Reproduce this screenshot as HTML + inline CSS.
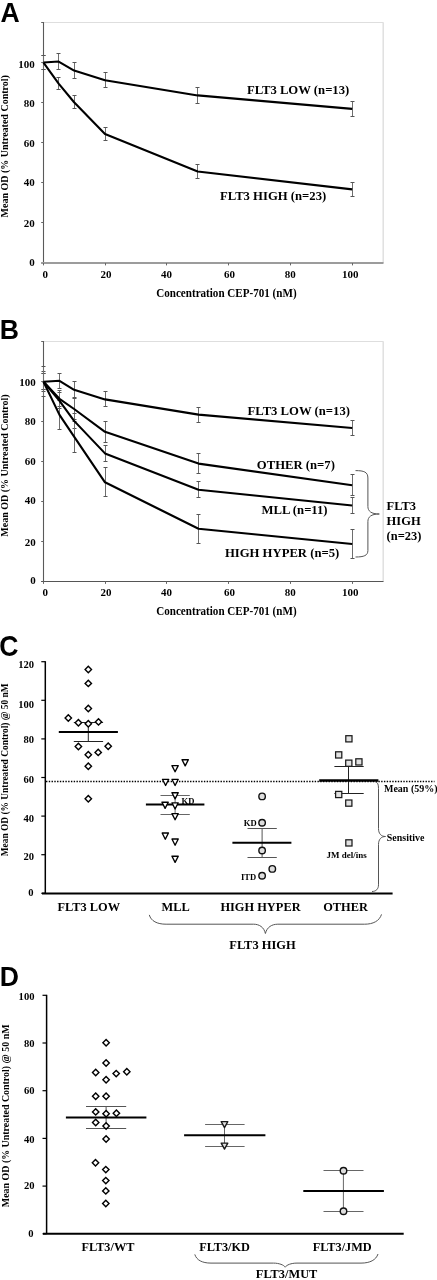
<!DOCTYPE html>
<html><head><meta charset="utf-8"><title>Figure</title>
<style>
html,body{margin:0;padding:0;background:#fff;}
body{width:437px;height:1280px;overflow:hidden;}
svg{display:block;}
text{-webkit-font-smoothing:antialiased;}
svg g{will-change:transform;}
</style></head>
<body>
<svg width="437" height="1280" viewBox="0 0 437 1280">
<rect width="437" height="1280" fill="#fff"/>
<g style="font-family:'Liberation Serif',serif;font-weight:bold" fill="#000">
<line x1="43.50" y1="22.50" x2="383.50" y2="22.50" stroke="#dedede" stroke-width="1" />
<line x1="383.20" y1="22.50" x2="383.20" y2="263.00" stroke="#dedede" stroke-width="1.4" />
<line x1="43.50" y1="22.00" x2="43.50" y2="264.00" stroke="#5a5a5a" stroke-width="1.1" />
<line x1="41.20" y1="263.00" x2="43.50" y2="263.00" stroke="#666" stroke-width="1" />
<text transform="translate(34.70,265.80) scale(1,1.03)" font-size="11" text-anchor="end" >0</text>
<line x1="41.20" y1="222.50" x2="43.50" y2="222.50" stroke="#666" stroke-width="1" />
<text transform="translate(34.70,226.50) scale(1,1.03)" font-size="11" text-anchor="end" >20</text>
<line x1="41.20" y1="182.50" x2="43.50" y2="182.50" stroke="#666" stroke-width="1" />
<text transform="translate(34.70,185.70) scale(1,1.03)" font-size="11" text-anchor="end" >40</text>
<line x1="41.20" y1="142.50" x2="43.50" y2="142.50" stroke="#666" stroke-width="1" />
<text transform="translate(34.70,146.60) scale(1,1.03)" font-size="11" text-anchor="end" >60</text>
<line x1="41.20" y1="102.50" x2="43.50" y2="102.50" stroke="#666" stroke-width="1" />
<text transform="translate(34.70,106.70) scale(1,1.03)" font-size="11" text-anchor="end" >80</text>
<line x1="41.20" y1="62.50" x2="43.50" y2="62.50" stroke="#666" stroke-width="1" />
<text transform="translate(34.70,67.60) scale(1,1.03)" font-size="11" text-anchor="end" >100</text>
<line x1="41.20" y1="22.50" x2="43.50" y2="22.50" stroke="#666" stroke-width="1" />
<line x1="41.20" y1="263.00" x2="383.50" y2="263.00" stroke="#9c9c9c" stroke-width="2" />
<line x1="43.50" y1="263.00" x2="43.50" y2="265.40" stroke="#666" stroke-width="1" />
<text transform="translate(45.30,277.90) scale(1,1.03)" font-size="11" text-anchor="middle" >0</text>
<line x1="105.50" y1="263.00" x2="105.50" y2="265.40" stroke="#666" stroke-width="1" />
<text transform="translate(106.00,277.90) scale(1,1.03)" font-size="11" text-anchor="middle" >20</text>
<line x1="166.50" y1="263.00" x2="166.50" y2="265.40" stroke="#666" stroke-width="1" />
<text transform="translate(166.60,277.90) scale(1,1.03)" font-size="11" text-anchor="middle" >40</text>
<line x1="228.50" y1="263.00" x2="228.50" y2="265.40" stroke="#666" stroke-width="1" />
<text transform="translate(229.50,277.90) scale(1,1.03)" font-size="11" text-anchor="middle" >60</text>
<line x1="290.50" y1="263.00" x2="290.50" y2="265.40" stroke="#666" stroke-width="1" />
<text transform="translate(290.20,277.90) scale(1,1.03)" font-size="11" text-anchor="middle" >80</text>
<line x1="352.50" y1="263.00" x2="352.50" y2="265.40" stroke="#666" stroke-width="1" />
<text transform="translate(350.30,277.90) scale(1,1.03)" font-size="11" text-anchor="middle" >100</text>
<line x1="43.50" y1="55.50" x2="43.50" y2="69.50" stroke="#6e6e6e" stroke-width="1" />
<line x1="41.50" y1="55.50" x2="45.50" y2="55.50" stroke="#555" stroke-width="1" />
<line x1="41.50" y1="69.50" x2="45.50" y2="69.50" stroke="#555" stroke-width="1" />
<line x1="58.50" y1="53.50" x2="58.50" y2="69.50" stroke="#6e6e6e" stroke-width="1" />
<line x1="56.50" y1="53.50" x2="60.50" y2="53.50" stroke="#555" stroke-width="1" />
<line x1="56.50" y1="69.50" x2="60.50" y2="69.50" stroke="#555" stroke-width="1" />
<line x1="74.50" y1="62.50" x2="74.50" y2="78.50" stroke="#6e6e6e" stroke-width="1" />
<line x1="72.50" y1="62.50" x2="76.50" y2="62.50" stroke="#555" stroke-width="1" />
<line x1="72.50" y1="78.50" x2="76.50" y2="78.50" stroke="#555" stroke-width="1" />
<line x1="105.50" y1="72.50" x2="105.50" y2="87.50" stroke="#6e6e6e" stroke-width="1" />
<line x1="103.50" y1="72.50" x2="107.50" y2="72.50" stroke="#555" stroke-width="1" />
<line x1="103.50" y1="87.50" x2="107.50" y2="87.50" stroke="#555" stroke-width="1" />
<line x1="197.50" y1="87.50" x2="197.50" y2="103.50" stroke="#6e6e6e" stroke-width="1" />
<line x1="195.50" y1="87.50" x2="199.50" y2="87.50" stroke="#555" stroke-width="1" />
<line x1="195.50" y1="103.50" x2="199.50" y2="103.50" stroke="#555" stroke-width="1" />
<line x1="352.50" y1="101.50" x2="352.50" y2="116.50" stroke="#6e6e6e" stroke-width="1" />
<line x1="350.50" y1="101.50" x2="354.50" y2="101.50" stroke="#555" stroke-width="1" />
<line x1="350.50" y1="116.50" x2="354.50" y2="116.50" stroke="#555" stroke-width="1" />
<line x1="43.50" y1="55.50" x2="43.50" y2="69.50" stroke="#6e6e6e" stroke-width="1" />
<line x1="41.50" y1="55.50" x2="45.50" y2="55.50" stroke="#555" stroke-width="1" />
<line x1="41.50" y1="69.50" x2="45.50" y2="69.50" stroke="#555" stroke-width="1" />
<line x1="58.50" y1="77.50" x2="58.50" y2="89.50" stroke="#6e6e6e" stroke-width="1" />
<line x1="56.50" y1="77.50" x2="60.50" y2="77.50" stroke="#555" stroke-width="1" />
<line x1="56.50" y1="89.50" x2="60.50" y2="89.50" stroke="#555" stroke-width="1" />
<line x1="74.50" y1="95.50" x2="74.50" y2="108.50" stroke="#6e6e6e" stroke-width="1" />
<line x1="72.50" y1="95.50" x2="76.50" y2="95.50" stroke="#555" stroke-width="1" />
<line x1="72.50" y1="108.50" x2="76.50" y2="108.50" stroke="#555" stroke-width="1" />
<line x1="105.50" y1="127.50" x2="105.50" y2="140.50" stroke="#6e6e6e" stroke-width="1" />
<line x1="103.50" y1="127.50" x2="107.50" y2="127.50" stroke="#555" stroke-width="1" />
<line x1="103.50" y1="140.50" x2="107.50" y2="140.50" stroke="#555" stroke-width="1" />
<line x1="197.50" y1="164.50" x2="197.50" y2="178.50" stroke="#6e6e6e" stroke-width="1" />
<line x1="195.50" y1="164.50" x2="199.50" y2="164.50" stroke="#555" stroke-width="1" />
<line x1="195.50" y1="178.50" x2="199.50" y2="178.50" stroke="#555" stroke-width="1" />
<line x1="352.50" y1="182.50" x2="352.50" y2="196.50" stroke="#6e6e6e" stroke-width="1" />
<line x1="350.50" y1="182.50" x2="354.50" y2="182.50" stroke="#555" stroke-width="1" />
<line x1="350.50" y1="196.50" x2="354.50" y2="196.50" stroke="#555" stroke-width="1" />
<polyline points="43.50,62.57 58.65,61.57 74.10,70.58 105.00,80.20 197.70,95.42 352.20,108.85" fill="none" stroke="#000" stroke-width="2.1" stroke-linejoin="round" stroke-linecap="butt"/>
<polyline points="43.50,62.57 58.65,83.60 74.10,102.24 105.00,134.09 197.70,171.55 352.20,189.38" fill="none" stroke="#000" stroke-width="2.1" stroke-linejoin="round" stroke-linecap="butt"/>
<text transform="translate(246.90,93.70) scale(1,1.03)" font-size="12.7" text-anchor="start" >FLT3 LOW (n=13)</text>
<text transform="translate(220.10,200.10) scale(1,1.03)" font-size="12.7" text-anchor="start" >FLT3 HIGH (n=23)</text>
<text transform="translate(226.40,297.20) scale(1,1.03)" font-size="11.1" text-anchor="middle" >Concentration CEP-701 (nM)</text>
<line x1="43.50" y1="341.50" x2="383.50" y2="341.50" stroke="#dedede" stroke-width="1" />
<line x1="383.20" y1="341.50" x2="383.20" y2="581.50" stroke="#dedede" stroke-width="1.4" />
<line x1="43.50" y1="341.00" x2="43.50" y2="582.50" stroke="#5a5a5a" stroke-width="1.1" />
<line x1="41.20" y1="581.50" x2="43.50" y2="581.50" stroke="#666" stroke-width="1" />
<text transform="translate(35.80,584.40) scale(1,1.03)" font-size="11" text-anchor="end" >0</text>
<line x1="41.20" y1="541.50" x2="43.50" y2="541.50" stroke="#666" stroke-width="1" />
<text transform="translate(35.80,545.60) scale(1,1.03)" font-size="11" text-anchor="end" >20</text>
<line x1="41.20" y1="501.50" x2="43.50" y2="501.50" stroke="#666" stroke-width="1" />
<text transform="translate(35.80,503.90) scale(1,1.03)" font-size="11" text-anchor="end" >40</text>
<line x1="41.20" y1="461.50" x2="43.50" y2="461.50" stroke="#666" stroke-width="1" />
<text transform="translate(35.80,464.60) scale(1,1.03)" font-size="11" text-anchor="end" >60</text>
<line x1="41.20" y1="421.50" x2="43.50" y2="421.50" stroke="#666" stroke-width="1" />
<text transform="translate(35.80,425.20) scale(1,1.03)" font-size="11" text-anchor="end" >80</text>
<line x1="41.20" y1="381.50" x2="43.50" y2="381.50" stroke="#666" stroke-width="1" />
<text transform="translate(35.80,385.70) scale(1,1.03)" font-size="11" text-anchor="end" >100</text>
<line x1="41.20" y1="341.50" x2="43.50" y2="341.50" stroke="#666" stroke-width="1" />
<line x1="41.20" y1="581.50" x2="383.50" y2="581.50" stroke="#555" stroke-width="1.2" />
<line x1="43.50" y1="581.50" x2="43.50" y2="583.90" stroke="#666" stroke-width="1" />
<text transform="translate(45.30,596.30) scale(1,1.03)" font-size="11" text-anchor="middle" >0</text>
<line x1="105.50" y1="581.50" x2="105.50" y2="583.90" stroke="#666" stroke-width="1" />
<text transform="translate(106.00,596.30) scale(1,1.03)" font-size="11" text-anchor="middle" >20</text>
<line x1="166.50" y1="581.50" x2="166.50" y2="583.90" stroke="#666" stroke-width="1" />
<text transform="translate(166.60,596.30) scale(1,1.03)" font-size="11" text-anchor="middle" >40</text>
<line x1="228.50" y1="581.50" x2="228.50" y2="583.90" stroke="#666" stroke-width="1" />
<text transform="translate(229.50,596.30) scale(1,1.03)" font-size="11" text-anchor="middle" >60</text>
<line x1="290.50" y1="581.50" x2="290.50" y2="583.90" stroke="#666" stroke-width="1" />
<text transform="translate(290.20,596.30) scale(1,1.03)" font-size="11" text-anchor="middle" >80</text>
<line x1="352.50" y1="581.50" x2="352.50" y2="583.90" stroke="#666" stroke-width="1" />
<text transform="translate(350.30,596.30) scale(1,1.03)" font-size="11" text-anchor="middle" >100</text>
<line x1="43.50" y1="373.50" x2="43.50" y2="389.50" stroke="#6e6e6e" stroke-width="1" />
<line x1="41.50" y1="373.50" x2="45.50" y2="373.50" stroke="#555" stroke-width="1" />
<line x1="41.50" y1="389.50" x2="45.50" y2="389.50" stroke="#555" stroke-width="1" />
<line x1="59.50" y1="373.50" x2="59.50" y2="388.50" stroke="#6e6e6e" stroke-width="1" />
<line x1="57.50" y1="373.50" x2="61.50" y2="373.50" stroke="#555" stroke-width="1" />
<line x1="57.50" y1="388.50" x2="61.50" y2="388.50" stroke="#555" stroke-width="1" />
<line x1="74.50" y1="381.50" x2="74.50" y2="397.50" stroke="#6e6e6e" stroke-width="1" />
<line x1="72.50" y1="381.50" x2="76.50" y2="381.50" stroke="#555" stroke-width="1" />
<line x1="72.50" y1="397.50" x2="76.50" y2="397.50" stroke="#555" stroke-width="1" />
<line x1="105.50" y1="391.50" x2="105.50" y2="406.50" stroke="#6e6e6e" stroke-width="1" />
<line x1="103.50" y1="391.50" x2="107.50" y2="391.50" stroke="#555" stroke-width="1" />
<line x1="103.50" y1="406.50" x2="107.50" y2="406.50" stroke="#555" stroke-width="1" />
<line x1="198.50" y1="407.50" x2="198.50" y2="422.50" stroke="#6e6e6e" stroke-width="1" />
<line x1="196.50" y1="407.50" x2="200.50" y2="407.50" stroke="#555" stroke-width="1" />
<line x1="196.50" y1="422.50" x2="200.50" y2="422.50" stroke="#555" stroke-width="1" />
<line x1="352.50" y1="420.50" x2="352.50" y2="435.50" stroke="#6e6e6e" stroke-width="1" />
<line x1="350.50" y1="420.50" x2="354.50" y2="420.50" stroke="#555" stroke-width="1" />
<line x1="350.50" y1="435.50" x2="354.50" y2="435.50" stroke="#555" stroke-width="1" />
<line x1="43.50" y1="371.50" x2="43.50" y2="391.50" stroke="#6e6e6e" stroke-width="1" />
<line x1="41.50" y1="371.50" x2="45.50" y2="371.50" stroke="#555" stroke-width="1" />
<line x1="41.50" y1="391.50" x2="45.50" y2="391.50" stroke="#555" stroke-width="1" />
<line x1="59.50" y1="390.50" x2="59.50" y2="406.50" stroke="#6e6e6e" stroke-width="1" />
<line x1="57.50" y1="390.50" x2="61.50" y2="390.50" stroke="#555" stroke-width="1" />
<line x1="57.50" y1="406.50" x2="61.50" y2="406.50" stroke="#555" stroke-width="1" />
<line x1="74.50" y1="398.50" x2="74.50" y2="419.50" stroke="#6e6e6e" stroke-width="1" />
<line x1="72.50" y1="398.50" x2="76.50" y2="398.50" stroke="#555" stroke-width="1" />
<line x1="72.50" y1="419.50" x2="76.50" y2="419.50" stroke="#555" stroke-width="1" />
<line x1="105.50" y1="421.50" x2="105.50" y2="442.50" stroke="#6e6e6e" stroke-width="1" />
<line x1="103.50" y1="421.50" x2="107.50" y2="421.50" stroke="#555" stroke-width="1" />
<line x1="103.50" y1="442.50" x2="107.50" y2="442.50" stroke="#555" stroke-width="1" />
<line x1="198.50" y1="453.50" x2="198.50" y2="473.50" stroke="#6e6e6e" stroke-width="1" />
<line x1="196.50" y1="453.50" x2="200.50" y2="453.50" stroke="#555" stroke-width="1" />
<line x1="196.50" y1="473.50" x2="200.50" y2="473.50" stroke="#555" stroke-width="1" />
<line x1="352.50" y1="474.50" x2="352.50" y2="495.50" stroke="#6e6e6e" stroke-width="1" />
<line x1="350.50" y1="474.50" x2="354.50" y2="474.50" stroke="#555" stroke-width="1" />
<line x1="350.50" y1="495.50" x2="354.50" y2="495.50" stroke="#555" stroke-width="1" />
<line x1="43.50" y1="373.50" x2="43.50" y2="389.50" stroke="#6e6e6e" stroke-width="1" />
<line x1="41.50" y1="373.50" x2="45.50" y2="373.50" stroke="#555" stroke-width="1" />
<line x1="41.50" y1="389.50" x2="45.50" y2="389.50" stroke="#555" stroke-width="1" />
<line x1="59.50" y1="392.50" x2="59.50" y2="408.50" stroke="#6e6e6e" stroke-width="1" />
<line x1="57.50" y1="392.50" x2="61.50" y2="392.50" stroke="#555" stroke-width="1" />
<line x1="57.50" y1="408.50" x2="61.50" y2="408.50" stroke="#555" stroke-width="1" />
<line x1="74.50" y1="413.50" x2="74.50" y2="428.50" stroke="#6e6e6e" stroke-width="1" />
<line x1="72.50" y1="413.50" x2="76.50" y2="413.50" stroke="#555" stroke-width="1" />
<line x1="72.50" y1="428.50" x2="76.50" y2="428.50" stroke="#555" stroke-width="1" />
<line x1="105.50" y1="445.50" x2="105.50" y2="461.50" stroke="#6e6e6e" stroke-width="1" />
<line x1="103.50" y1="445.50" x2="107.50" y2="445.50" stroke="#555" stroke-width="1" />
<line x1="103.50" y1="461.50" x2="107.50" y2="461.50" stroke="#555" stroke-width="1" />
<line x1="198.50" y1="481.50" x2="198.50" y2="497.50" stroke="#6e6e6e" stroke-width="1" />
<line x1="196.50" y1="481.50" x2="200.50" y2="481.50" stroke="#555" stroke-width="1" />
<line x1="196.50" y1="497.50" x2="200.50" y2="497.50" stroke="#555" stroke-width="1" />
<line x1="352.50" y1="497.50" x2="352.50" y2="513.50" stroke="#6e6e6e" stroke-width="1" />
<line x1="350.50" y1="497.50" x2="354.50" y2="497.50" stroke="#555" stroke-width="1" />
<line x1="350.50" y1="513.50" x2="354.50" y2="513.50" stroke="#555" stroke-width="1" />
<line x1="43.50" y1="366.50" x2="43.50" y2="396.50" stroke="#6e6e6e" stroke-width="1" />
<line x1="41.50" y1="366.50" x2="45.50" y2="366.50" stroke="#555" stroke-width="1" />
<line x1="41.50" y1="396.50" x2="45.50" y2="396.50" stroke="#555" stroke-width="1" />
<line x1="59.50" y1="400.50" x2="59.50" y2="429.50" stroke="#6e6e6e" stroke-width="1" />
<line x1="57.50" y1="400.50" x2="61.50" y2="400.50" stroke="#555" stroke-width="1" />
<line x1="57.50" y1="429.50" x2="61.50" y2="429.50" stroke="#555" stroke-width="1" />
<line x1="74.50" y1="421.50" x2="74.50" y2="452.50" stroke="#6e6e6e" stroke-width="1" />
<line x1="72.50" y1="421.50" x2="76.50" y2="421.50" stroke="#555" stroke-width="1" />
<line x1="72.50" y1="452.50" x2="76.50" y2="452.50" stroke="#555" stroke-width="1" />
<line x1="105.50" y1="467.50" x2="105.50" y2="496.50" stroke="#6e6e6e" stroke-width="1" />
<line x1="103.50" y1="467.50" x2="107.50" y2="467.50" stroke="#555" stroke-width="1" />
<line x1="103.50" y1="496.50" x2="107.50" y2="496.50" stroke="#555" stroke-width="1" />
<line x1="198.50" y1="514.50" x2="198.50" y2="543.50" stroke="#6e6e6e" stroke-width="1" />
<line x1="196.50" y1="514.50" x2="200.50" y2="514.50" stroke="#555" stroke-width="1" />
<line x1="196.50" y1="543.50" x2="200.50" y2="543.50" stroke="#555" stroke-width="1" />
<line x1="352.50" y1="529.50" x2="352.50" y2="558.50" stroke="#6e6e6e" stroke-width="1" />
<line x1="350.50" y1="529.50" x2="354.50" y2="529.50" stroke="#555" stroke-width="1" />
<line x1="350.50" y1="558.50" x2="354.50" y2="558.50" stroke="#555" stroke-width="1" />
<polyline points="43.50,381.80 59.50,380.80 74.10,389.80 105.00,399.40 198.50,414.60 352.20,428.00" fill="none" stroke="#000" stroke-width="2.1" stroke-linejoin="round" stroke-linecap="butt"/>
<polyline points="43.50,381.80 59.50,398.80 74.10,409.00 105.00,431.80 198.50,463.60 352.20,485.20" fill="none" stroke="#000" stroke-width="2.1" stroke-linejoin="round" stroke-linecap="butt"/>
<polyline points="43.50,381.80 59.50,400.80 74.10,420.90 105.00,453.40 198.50,489.80 352.20,505.50" fill="none" stroke="#000" stroke-width="2.1" stroke-linejoin="round" stroke-linecap="butt"/>
<polyline points="43.50,381.80 59.50,414.90 74.10,436.70 105.00,482.30 198.50,528.70 352.20,544.00" fill="none" stroke="#000" stroke-width="2.1" stroke-linejoin="round" stroke-linecap="butt"/>
<text transform="translate(247.60,414.60) scale(1,1.03)" font-size="12.7" text-anchor="start" >FLT3 LOW (n=13)</text>
<text transform="translate(256.80,468.90) scale(1,1.03)" font-size="12.7" text-anchor="start" >OTHER (n=7)</text>
<text transform="translate(261.50,513.50) scale(1,1.03)" font-size="12.7" text-anchor="start" >MLL (n=11)</text>
<text transform="translate(224.90,556.80) scale(1,1.03)" font-size="12.7" text-anchor="start" >HIGH HYPER (n=5)</text>
<text transform="translate(386.60,509.90) scale(1,1.03)" font-size="12.5" text-anchor="start" >FLT3</text>
<text transform="translate(386.60,524.90) scale(1,1.03)" font-size="12.5" text-anchor="start" >HIGH</text>
<text transform="translate(386.60,539.90) scale(1,1.03)" font-size="12.5" text-anchor="start" >(n=23)</text>
<text transform="translate(226.40,615.30) scale(1,1.03)" font-size="11.1" text-anchor="middle" >Concentration CEP-701 (nM)</text>
<path d="M355.5,470.6 C364,470.6 367.9,472 367.9,478 L367.9,506.5 C367.9,511 371,514 379.3,514 C371,514 367.9,517 367.9,521.5 L367.9,550.5 C367.9,555.5 364,557 355.5,557" fill="none" stroke="#555" stroke-width="1"/>
<text transform="translate(8.2,146.3) rotate(-90) scale(1,1.05)" font-size="10" text-anchor="middle">Mean OD (% Untreated Control)</text>
<text transform="translate(8.2,465.5) rotate(-90) scale(1,1.05)" font-size="10" text-anchor="middle">Mean OD (% Untreated Control)</text>
</g>
<g style="font-family:'Liberation Serif',serif;font-weight:bold" fill="#000">
<line x1="46.00" y1="781.50" x2="434.50" y2="781.50" stroke="#000" stroke-width="1.4" stroke-dasharray="1.4 1.37"/>
<line x1="45.30" y1="661.20" x2="45.30" y2="893.30" stroke="#000" stroke-width="1.5" />
<line x1="41.30" y1="893.30" x2="45.30" y2="893.30" stroke="#000" stroke-width="1.2" />
<text transform="translate(33.60,895.60) scale(1,1.03)" font-size="10.6" text-anchor="end" >0</text>
<line x1="41.30" y1="854.70" x2="45.30" y2="854.70" stroke="#000" stroke-width="1.2" />
<text transform="translate(34.10,860.00) scale(1,1.03)" font-size="10.6" text-anchor="end" >20</text>
<line x1="41.30" y1="816.10" x2="45.30" y2="816.10" stroke="#000" stroke-width="1.2" />
<text transform="translate(34.10,822.20) scale(1,1.03)" font-size="10.6" text-anchor="end" >40</text>
<line x1="41.30" y1="777.50" x2="45.30" y2="777.50" stroke="#000" stroke-width="1.2" />
<text transform="translate(34.10,782.60) scale(1,1.03)" font-size="10.6" text-anchor="end" >60</text>
<line x1="41.30" y1="738.90" x2="45.30" y2="738.90" stroke="#000" stroke-width="1.2" />
<text transform="translate(34.10,743.10) scale(1,1.03)" font-size="10.6" text-anchor="end" >80</text>
<line x1="41.30" y1="700.30" x2="45.30" y2="700.30" stroke="#000" stroke-width="1.2" />
<text transform="translate(34.10,707.60) scale(1,1.03)" font-size="10.6" text-anchor="end" >100</text>
<line x1="41.30" y1="661.70" x2="45.30" y2="661.70" stroke="#000" stroke-width="1.2" />
<text transform="translate(34.10,668.30) scale(1,1.03)" font-size="10.6" text-anchor="end" >120</text>
<line x1="42.00" y1="893.40" x2="392.60" y2="893.40" stroke="#000" stroke-width="2" />
<line x1="88.30" y1="722.50" x2="88.30" y2="741.50" stroke="#222" stroke-width="1" />
<line x1="73.80" y1="722.50" x2="103.10" y2="722.50" stroke="#222" stroke-width="1" />
<line x1="73.80" y1="741.50" x2="103.10" y2="741.50" stroke="#222" stroke-width="1" />
<line x1="58.80" y1="731.90" x2="117.90" y2="731.90" stroke="#000" stroke-width="2" />
<path d="M88.30,666.30 L91.50,669.50 L88.30,672.70 L85.10,669.50 Z" fill="#fff" stroke="#000" stroke-width="1.4"/>
<path d="M88.30,680.20 L91.50,683.40 L88.30,686.60 L85.10,683.40 Z" fill="#fff" stroke="#000" stroke-width="1.4"/>
<path d="M88.30,705.30 L91.50,708.50 L88.30,711.70 L85.10,708.50 Z" fill="#fff" stroke="#000" stroke-width="1.4"/>
<path d="M68.30,714.80 L71.50,718.00 L68.30,721.20 L65.10,718.00 Z" fill="#fff" stroke="#000" stroke-width="1.4"/>
<path d="M78.40,719.60 L81.60,722.80 L78.40,726.00 L75.20,722.80 Z" fill="#fff" stroke="#000" stroke-width="1.4"/>
<path d="M88.30,720.50 L91.50,723.70 L88.30,726.90 L85.10,723.70 Z" fill="#fff" stroke="#000" stroke-width="1.4"/>
<path d="M98.50,718.70 L101.70,721.90 L98.50,725.10 L95.30,721.90 Z" fill="#fff" stroke="#000" stroke-width="1.4"/>
<path d="M78.40,743.30 L81.60,746.50 L78.40,749.70 L75.20,746.50 Z" fill="#fff" stroke="#000" stroke-width="1.4"/>
<path d="M108.20,743.00 L111.40,746.20 L108.20,749.40 L105.00,746.20 Z" fill="#fff" stroke="#000" stroke-width="1.4"/>
<path d="M98.20,749.20 L101.40,752.40 L98.20,755.60 L95.00,752.40 Z" fill="#fff" stroke="#000" stroke-width="1.4"/>
<path d="M88.30,751.60 L91.50,754.80 L88.30,758.00 L85.10,754.80 Z" fill="#fff" stroke="#000" stroke-width="1.4"/>
<path d="M88.30,763.10 L91.50,766.30 L88.30,769.50 L85.10,766.30 Z" fill="#fff" stroke="#000" stroke-width="1.4"/>
<path d="M88.30,795.50 L91.50,798.70 L88.30,801.90 L85.10,798.70 Z" fill="#fff" stroke="#000" stroke-width="1.4"/>
<line x1="175.10" y1="795.50" x2="175.10" y2="814.50" stroke="#666" stroke-width="1" />
<line x1="160.50" y1="795.50" x2="189.80" y2="795.50" stroke="#666" stroke-width="1" />
<line x1="160.50" y1="814.50" x2="189.80" y2="814.50" stroke="#666" stroke-width="1" />
<line x1="145.90" y1="804.60" x2="204.40" y2="804.60" stroke="#000" stroke-width="2" />
<path d="M182.05,759.70 L188.35,759.70 L185.20,765.90 Z" fill="#fff" stroke="#000" stroke-width="1.35" stroke-linejoin="round"/>
<path d="M171.95,765.60 L178.25,765.60 L175.10,771.80 Z" fill="#fff" stroke="#000" stroke-width="1.35" stroke-linejoin="round"/>
<path d="M162.45,779.30 L168.75,779.30 L165.60,785.50 Z" fill="#fff" stroke="#000" stroke-width="1.35" stroke-linejoin="round"/>
<path d="M171.95,779.30 L178.25,779.30 L175.10,785.50 Z" fill="#fff" stroke="#000" stroke-width="1.35" stroke-linejoin="round"/>
<path d="M171.95,792.70 L178.25,792.70 L175.10,798.90 Z" fill="#fff" stroke="#000" stroke-width="1.35" stroke-linejoin="round"/>
<path d="M161.95,802.20 L168.25,802.20 L165.10,808.40 Z" fill="#fff" stroke="#000" stroke-width="1.35" stroke-linejoin="round"/>
<path d="M171.95,802.80 L178.25,802.80 L175.10,809.00 Z" fill="#fff" stroke="#000" stroke-width="1.35" stroke-linejoin="round"/>
<path d="M171.95,813.60 L178.25,813.60 L175.10,819.80 Z" fill="#fff" stroke="#000" stroke-width="1.35" stroke-linejoin="round"/>
<path d="M162.15,833.00 L168.45,833.00 L165.30,839.20 Z" fill="#fff" stroke="#000" stroke-width="1.35" stroke-linejoin="round"/>
<path d="M171.95,839.00 L178.25,839.00 L175.10,845.20 Z" fill="#fff" stroke="#000" stroke-width="1.35" stroke-linejoin="round"/>
<path d="M171.95,856.20 L178.25,856.20 L175.10,862.40 Z" fill="#fff" stroke="#000" stroke-width="1.35" stroke-linejoin="round"/>
<text transform="translate(181.60,803.60) scale(1,1.03)" font-size="8.6" text-anchor="start" >KD</text>
<line x1="262.10" y1="828.50" x2="262.10" y2="857.50" stroke="#555" stroke-width="1" />
<line x1="247.50" y1="828.50" x2="276.80" y2="828.50" stroke="#555" stroke-width="1" />
<line x1="247.50" y1="857.50" x2="276.80" y2="857.50" stroke="#555" stroke-width="1" />
<line x1="232.40" y1="842.80" x2="291.40" y2="842.80" stroke="#000" stroke-width="2" />
<circle cx="262.10" cy="796.40" r="3.25" fill="#dedede" stroke="#111" stroke-width="1.4"/>
<circle cx="262.10" cy="822.70" r="3.25" fill="#dedede" stroke="#111" stroke-width="1.4"/>
<circle cx="262.10" cy="850.50" r="3.25" fill="#dedede" stroke="#111" stroke-width="1.4"/>
<circle cx="272.30" cy="868.90" r="3.25" fill="#dedede" stroke="#111" stroke-width="1.4"/>
<circle cx="262.10" cy="875.70" r="3.25" fill="#dedede" stroke="#111" stroke-width="1.4"/>
<text transform="translate(256.70,825.80) scale(1,1.03)" font-size="8.6" text-anchor="end" >KD</text>
<text transform="translate(256.20,879.60) scale(1,1.03)" font-size="8.6" text-anchor="end" >ITD</text>
<line x1="348.50" y1="766.50" x2="348.50" y2="793.50" stroke="#222" stroke-width="1" />
<line x1="334.40" y1="766.50" x2="363.70" y2="766.50" stroke="#222" stroke-width="1" />
<line x1="334.40" y1="793.50" x2="363.70" y2="793.50" stroke="#222" stroke-width="1" />
<rect x="345.80" y="735.70" width="6.2" height="6.2" fill="#e2e2e2" stroke="#1a1a1a" stroke-width="1.25"/>
<rect x="335.60" y="751.80" width="6.2" height="6.2" fill="#e2e2e2" stroke="#1a1a1a" stroke-width="1.25"/>
<rect x="345.70" y="760.10" width="6.2" height="6.2" fill="#e2e2e2" stroke="#1a1a1a" stroke-width="1.25"/>
<rect x="355.80" y="758.80" width="6.2" height="6.2" fill="#e2e2e2" stroke="#1a1a1a" stroke-width="1.25"/>
<rect x="335.60" y="791.40" width="6.2" height="6.2" fill="#e2e2e2" stroke="#1a1a1a" stroke-width="1.25"/>
<rect x="345.70" y="800.00" width="6.2" height="6.2" fill="#e2e2e2" stroke="#1a1a1a" stroke-width="1.25"/>
<rect x="345.80" y="839.80" width="6.2" height="6.2" fill="#e2e2e2" stroke="#1a1a1a" stroke-width="1.25"/>
<line x1="319.20" y1="780.50" x2="378.40" y2="780.50" stroke="#000" stroke-width="2.3" />
<text transform="translate(346.70,858.40) scale(1,1.03)" font-size="9.0" text-anchor="middle" >JM del/ins</text>
<text transform="translate(384.00,792.10) scale(1,1.03)" font-size="10.0" text-anchor="start" >Mean (59%)</text>
<text transform="translate(386.80,840.60) scale(1,1.03)" font-size="9.95" text-anchor="start" >Sensitive</text>
<path d="M375.5,781.9 C377.8,782.4 378.5,784.5 378.5,788.5 L378.5,828.5 C378.5,833.5 381,836.5 385.5,836.5 C381,836.5 378.5,839.5 378.5,844.5 L378.5,884.8 C378.5,889 376,891.5 372,891.5" fill="none" stroke="#555" stroke-width="1"/>
<text transform="translate(88.75,911.30) scale(1,1.03)" font-size="12.4" text-anchor="middle" >FLT3 LOW</text>
<text transform="translate(175.70,911.30) scale(1,1.03)" font-size="12.4" text-anchor="middle" >MLL</text>
<text transform="translate(260.50,911.30) scale(1,1.03)" font-size="12.4" text-anchor="middle" >HIGH HYPER</text>
<text transform="translate(345.60,911.30) scale(1,1.03)" font-size="12.4" text-anchor="middle" >OTHER</text>
<text transform="translate(262.50,948.50) scale(1,1.03)" font-size="12.5" text-anchor="middle" >FLT3 HIGH</text>
<path d="M149.3,914.9 C151,921 157,924.2 166.1,924.2 L253.7,924.2 C259,924.2 264,927 265.4,933.5 C267,927 272,924.2 277.8,924.2 L364.7,924.2 C373,924.2 379.5,921 381.5,914.4" fill="none" stroke="#555" stroke-width="1"/>
<text transform="translate(8.3,769.8) rotate(-90) scale(1,1.05)" font-size="10" text-anchor="middle" textLength="173" lengthAdjust="spacingAndGlyphs">Mean OD (% Untreated Control) @ 50 nM</text>
<line x1="46.60" y1="994.80" x2="46.60" y2="1233.80" stroke="#000" stroke-width="1.5" />
<line x1="42.50" y1="1233.80" x2="46.60" y2="1233.80" stroke="#000" stroke-width="1.2" />
<text transform="translate(33.60,1237.30) scale(1,1.03)" font-size="10.6" text-anchor="end" >0</text>
<line x1="42.50" y1="1186.10" x2="46.60" y2="1186.10" stroke="#000" stroke-width="1.2" />
<text transform="translate(34.50,1189.40) scale(1,1.03)" font-size="10.6" text-anchor="end" >20</text>
<line x1="42.50" y1="1138.40" x2="46.60" y2="1138.40" stroke="#000" stroke-width="1.2" />
<text transform="translate(34.50,1143.00) scale(1,1.03)" font-size="10.6" text-anchor="end" >40</text>
<line x1="42.50" y1="1090.70" x2="46.60" y2="1090.70" stroke="#000" stroke-width="1.2" />
<text transform="translate(34.50,1094.20) scale(1,1.03)" font-size="10.6" text-anchor="end" >60</text>
<line x1="42.50" y1="1043.00" x2="46.60" y2="1043.00" stroke="#000" stroke-width="1.2" />
<text transform="translate(34.50,1046.60) scale(1,1.03)" font-size="10.6" text-anchor="end" >80</text>
<line x1="42.50" y1="995.30" x2="46.60" y2="995.30" stroke="#000" stroke-width="1.2" />
<text transform="translate(34.50,1000.20) scale(1,1.03)" font-size="10.6" text-anchor="end" >100</text>
<line x1="43.00" y1="1233.70" x2="403.70" y2="1233.70" stroke="#000" stroke-width="2" />
<line x1="106.10" y1="1106.50" x2="106.10" y2="1128.50" stroke="#555" stroke-width="1" />
<line x1="86.00" y1="1106.50" x2="126.20" y2="1106.50" stroke="#555" stroke-width="1" />
<line x1="86.00" y1="1128.50" x2="126.20" y2="1128.50" stroke="#555" stroke-width="1" />
<line x1="65.90" y1="1117.40" x2="146.40" y2="1117.40" stroke="#000" stroke-width="2" />
<path d="M106.10,1039.60 L109.30,1042.80 L106.10,1046.00 L102.90,1042.80 Z" fill="#fff" stroke="#000" stroke-width="1.4"/>
<path d="M106.10,1059.80 L109.30,1063.00 L106.10,1066.20 L102.90,1063.00 Z" fill="#fff" stroke="#000" stroke-width="1.4"/>
<path d="M95.70,1069.30 L98.90,1072.50 L95.70,1075.70 L92.50,1072.50 Z" fill="#fff" stroke="#000" stroke-width="1.4"/>
<path d="M116.20,1070.40 L119.40,1073.60 L116.20,1076.80 L113.00,1073.60 Z" fill="#fff" stroke="#000" stroke-width="1.4"/>
<path d="M126.80,1068.50 L130.00,1071.70 L126.80,1074.90 L123.60,1071.70 Z" fill="#fff" stroke="#000" stroke-width="1.4"/>
<path d="M106.10,1076.60 L109.30,1079.80 L106.10,1083.00 L102.90,1079.80 Z" fill="#fff" stroke="#000" stroke-width="1.4"/>
<path d="M95.70,1093.10 L98.90,1096.30 L95.70,1099.50 L92.50,1096.30 Z" fill="#fff" stroke="#000" stroke-width="1.4"/>
<path d="M106.10,1093.10 L109.30,1096.30 L106.10,1099.50 L102.90,1096.30 Z" fill="#fff" stroke="#000" stroke-width="1.4"/>
<path d="M95.70,1108.70 L98.90,1111.90 L95.70,1115.10 L92.50,1111.90 Z" fill="#fff" stroke="#000" stroke-width="1.4"/>
<path d="M106.10,1110.50 L109.30,1113.70 L106.10,1116.90 L102.90,1113.70 Z" fill="#fff" stroke="#000" stroke-width="1.4"/>
<path d="M116.40,1110.00 L119.60,1113.20 L116.40,1116.40 L113.20,1113.20 Z" fill="#fff" stroke="#000" stroke-width="1.4"/>
<path d="M95.70,1119.30 L98.90,1122.50 L95.70,1125.70 L92.50,1122.50 Z" fill="#fff" stroke="#000" stroke-width="1.4"/>
<path d="M106.10,1122.80 L109.30,1126.00 L106.10,1129.20 L102.90,1126.00 Z" fill="#fff" stroke="#000" stroke-width="1.4"/>
<path d="M106.10,1135.80 L109.30,1139.00 L106.10,1142.20 L102.90,1139.00 Z" fill="#fff" stroke="#000" stroke-width="1.4"/>
<path d="M95.50,1159.50 L98.70,1162.70 L95.50,1165.90 L92.30,1162.70 Z" fill="#fff" stroke="#000" stroke-width="1.4"/>
<path d="M105.80,1166.40 L109.00,1169.60 L105.80,1172.80 L102.60,1169.60 Z" fill="#fff" stroke="#000" stroke-width="1.4"/>
<path d="M105.80,1177.40 L109.00,1180.60 L105.80,1183.80 L102.60,1180.60 Z" fill="#fff" stroke="#000" stroke-width="1.4"/>
<path d="M105.80,1187.70 L109.00,1190.90 L105.80,1194.10 L102.60,1190.90 Z" fill="#fff" stroke="#000" stroke-width="1.4"/>
<path d="M105.80,1200.30 L109.00,1203.50 L105.80,1206.70 L102.60,1203.50 Z" fill="#fff" stroke="#000" stroke-width="1.4"/>
<line x1="224.50" y1="1124.50" x2="224.50" y2="1146.50" stroke="#666" stroke-width="1" />
<line x1="205.10" y1="1124.50" x2="244.60" y2="1124.50" stroke="#666" stroke-width="1" />
<line x1="205.10" y1="1146.50" x2="244.60" y2="1146.50" stroke="#666" stroke-width="1" />
<line x1="184.10" y1="1135.30" x2="265.40" y2="1135.30" stroke="#000" stroke-width="2" />
<path d="M221.20,1121.60 L227.80,1121.60 L224.50,1127.60 Z" fill="#e0e0e0" stroke="#1a1a1a" stroke-width="1.35" stroke-linejoin="round"/>
<path d="M221.20,1143.10 L227.80,1143.10 L224.50,1149.10 Z" fill="#e0e0e0" stroke="#1a1a1a" stroke-width="1.35" stroke-linejoin="round"/>
<line x1="343.40" y1="1170.50" x2="343.40" y2="1211.50" stroke="#666" stroke-width="1" />
<line x1="323.50" y1="1170.50" x2="363.50" y2="1170.50" stroke="#666" stroke-width="1" />
<line x1="323.50" y1="1211.50" x2="363.50" y2="1211.50" stroke="#666" stroke-width="1" />
<line x1="303.30" y1="1190.90" x2="383.90" y2="1190.90" stroke="#000" stroke-width="2" />
<circle cx="343.50" cy="1170.80" r="3.25" fill="#dedede" stroke="#111" stroke-width="1.4"/>
<circle cx="343.50" cy="1211.30" r="3.25" fill="#dedede" stroke="#111" stroke-width="1.4"/>
<text transform="translate(108.00,1251.40) scale(1,1.03)" font-size="12.3" text-anchor="middle" >FLT3/WT</text>
<text transform="translate(224.50,1251.40) scale(1,1.03)" font-size="12.3" text-anchor="middle" >FLT3/KD</text>
<text transform="translate(342.20,1251.40) scale(1,1.03)" font-size="12.3" text-anchor="middle" >FLT3/JMD</text>
<text transform="translate(286.60,1278.40) scale(1,1.03)" font-size="12.4" text-anchor="middle" >FLT3/MUT</text>
<path d="M194.8,1254.4 C196.5,1260 202,1263.1 211,1263.1 L273.5,1263.1 C279,1263.1 284,1265 285.2,1267.2 C286.5,1265 291,1263.1 297,1263.1 L361,1263.1 C370,1263.1 376,1260 378,1254" fill="none" stroke="#555" stroke-width="1"/>
<text transform="translate(8.6,1115.8) rotate(-90) scale(1,1.05)" font-size="10" text-anchor="middle" textLength="182.8" lengthAdjust="spacingAndGlyphs">Mean OD (% Untreated Control) @ 50 nM</text>
</g>
<g style="font-family:'Liberation Sans',sans-serif;font-weight:bold" font-size="26.6" fill="#000">
<text transform="translate(0.5,22.2) scale(1,1.06)">A</text>
<text transform="translate(-0.3,339.3) scale(1,1.06)">B</text>
<text transform="translate(-0.8,655.6) scale(1,1.09)">C</text>
<text transform="translate(-0.2,985.8) scale(1,1.06)">D</text>
</g>
</svg>
</body></html>
